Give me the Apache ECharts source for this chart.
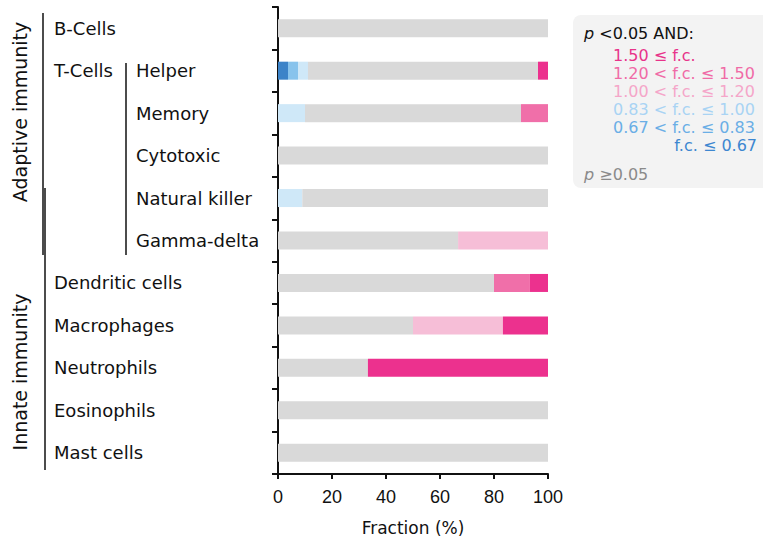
<!DOCTYPE html>
<html><head><meta charset="utf-8">
<script src="https://cdn.jsdelivr.net/npm/echarts@6/dist/echarts.min.js"></script>
<style>html,body{margin:0;padding:0;background:#fff}#c{width:763px;height:544px}</style>
</head><body><div id="c"></div>
<script>
const categories = ['B-Cells','Helper','Memory','Cytotoxic','Natural killer','Gamma-delta','Dendritic cells','Macrophages','Neutrophils','Eosinophils','Mast cells'];
const tCellSubtypes = ['Helper','Memory','Cytotoxic','Natural killer','Gamma-delta'];
const xTicks = [0,20,40,60,80,100];
// fraction (%) of each fold-change class per cell type
const fcLe067      = [0,3.7,0,0,0,0,0,0,0,0,0];
const fc067to083   = [0,3.7,0,0,0,0,0,0,0,0,0];
const fc083to100   = [0,3.7,10,0,9,0,0,0,0,0,0];
const notSig       = [100,85.2,80,100,91,66.7,80,50,33.3,100,100];
const fc100to120   = [0,0,0,0,0,33.3,0,33.3,0,0,0];
const fc120to150   = [0,0,10,0,0,0,13.3,0,0,0,0];
const fcGe150      = [0,3.7,0,0,0,0,6.7,16.7,66.7,0,0];
const legendLines  = ['1.50 \u2264 f.c.','1.20 < f.c. \u2264 1.50','1.00 < f.c. \u2264 1.20','0.83 < f.c. \u2264 1.00','0.67 < f.c. \u2264 0.83','f.c. \u2264 0.67'];

const FONT = 'DejaVu Sans, Liberation Sans, sans-serif';
const NUMFONT = 'Liberation Sans, Arial, sans-serif';
const seriesDefs = [
  ['f.c. \u2264 0.67', fcLe067, '#3c83c8'],
  ['0.67 < f.c. \u2264 0.83', fc067to083, '#88c3ec'],
  ['0.83 < f.c. \u2264 1.00', fc083to100, '#cfe8f8'],
  ['p \u2265 0.05', notSig, '#d9d9d9'],
  ['1.00 < f.c. \u2264 1.20', fc100to120, '#f6bed7'],
  ['1.20 < f.c. \u2264 1.50', fc120to150, '#f06fa9'],
  ['1.50 \u2264 f.c.', fcGe150, '#ec318e']
];
const legendColors = ['#e8338a','#f06aa6','#f5a6c9','#a9d3f3','#6aaee6','#3d87d0'];
const legendY = [55,73,91,109,127,145];

const chart = echarts.init(document.getElementById('c'), null, {renderer:'svg'});
const graphics = [
  {type:'rect', shape:{x:573,y:15,width:220,height:173,r:8}, style:{fill:'#f3f3f3'}, silent:true},
  {type:'text', x:584, y:33, style:{text:'{i|p} <0.05 AND:', fill:'#111', font:'16px '+FONT, verticalAlign:'middle',
     rich:{i:{fontStyle:'italic', fontSize:16, fontFamily:FONT, fill:'#111'}}}},
  {type:'text', x:584, y:174, style:{text:'{i|p} \u22650.05', fill:'#8a8a8a', font:'16px '+FONT, verticalAlign:'middle',
     rich:{i:{fontStyle:'italic', fontSize:16, fontFamily:FONT, fill:'#8a8a8a'}}}},
  // hierarchy lines
  {type:'line', shape:{x1:43,y1:13,x2:43,y2:255}, style:{stroke:'#111', lineWidth:1.5}},
  {type:'line', shape:{x1:45,y1:188,x2:45,y2:470}, style:{stroke:'#111', lineWidth:1.5}},
  {type:'line', shape:{x1:126,y1:63,x2:126,y2:255}, style:{stroke:'#111', lineWidth:1.5}},
  {type:'text', x:20, y:112, rotation:Math.PI/2, style:{text:'Adaptive immunity', fill:'#111', font:'19px '+FONT, align:'center', verticalAlign:'middle'}},
  {type:'text', x:20, y:372, rotation:Math.PI/2, style:{text:'Innate immunity', fill:'#111', font:'19px '+FONT, align:'center', verticalAlign:'middle'}}
];
legendLines.forEach((t,i)=>{
  const last = i === legendLines.length-1;
  graphics.push({type:'text', x: last ? 757 : 613, y: legendY[i],
    style:{text:t, fill:legendColors[i], font:'16px '+FONT, lineHeight:17, align: last ? 'right':'left', verticalAlign:'middle'}});
});

chart.setOption({
  animation:false,
  grid:{left:278, right:215, top:7, bottom:70, containLabel:false},
  xAxis:{type:'value', min:0, max:100, interval:20,
    name:'Fraction (%)', nameLocation:'middle', nameGap:45,
    nameTextStyle:{fontSize:17, fontFamily:FONT, color:'#111'},
    axisLine:{show:true, lineStyle:{color:'#111', width:2}},
    axisTick:{show:true, length:5, lineStyle:{color:'#111', width:2}},
    axisLabel:{fontSize:18, fontFamily:NUMFONT, color:'#111', margin:14,
      formatter:v => xTicks.includes(v) ? String(v) : ''},
    splitLine:{show:false}},
  yAxis:{type:'category', data:categories, inverse:true,
    axisLine:{show:true, lineStyle:{color:'#111', width:2}},
    axisTick:{show:true, length:6, lineStyle:{color:'#111', width:2}},
    axisLabel:{align:'left', margin:224, fontSize:18, fontFamily:FONT, color:'#111',
      formatter: v => {
        if (v === 'Helper') return '{tc|T-Cells}{n|Helper}';
        if (tCellSubtypes.includes(v)) return '{sub|' + v + '}';
        return '{n|' + v + '}';
      },
      rich:{
        tc:{width:82, fontSize:18, fontFamily:FONT, color:'#111'},
        n:{fontSize:18, fontFamily:FONT, color:'#111'},
        sub:{padding:[0,0,0,82], fontSize:18, fontFamily:FONT, color:'#111'}
      }},
    splitLine:{show:false}},
  series: seriesDefs.map(([name,data,color]) => ({
    name, type:'bar', stack:'all', data, barWidth:18,
    itemStyle:{color}, emphasis:{disabled:true}
  })),
  graphic: graphics
});
</script></body></html>
